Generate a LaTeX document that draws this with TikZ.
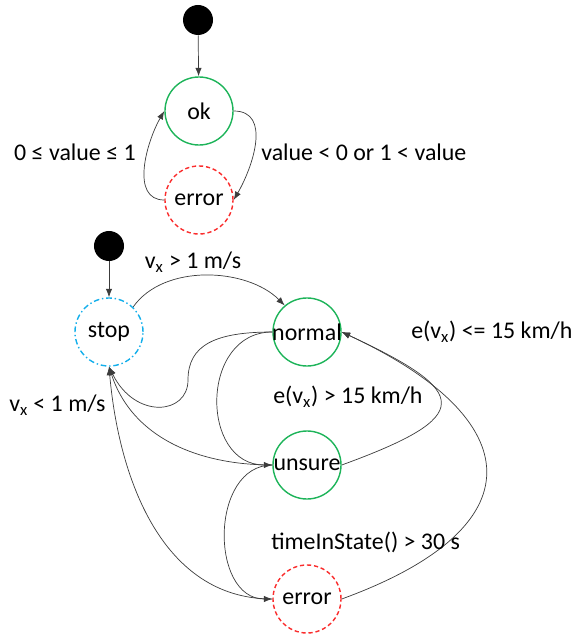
\documentclass[tikz,border=0pt]{standalone}
\usepackage{fontspec}
\setmainfont{Carlito}
\usepackage{xcolor}
\definecolor{StateGreen}{RGB}{30,180,90}
\definecolor{ErrorRed}{RGB}{250,45,45}
\definecolor{StopBlue}{RGB}{20,175,235}
\definecolor{LineGray}{RGB}{60,60,60}
\usepackage{tikz}
\usetikzlibrary{arrows.meta, shapes.geometric}
\newcommand{\diagfont}{\fontsize{17}{20}\selectfont}
\tikzset{
  % Initial pseudo state
  initdot/.style={circle, fill=black, minimum size=0.75cm, inner sep=0pt},
  % State circles
  statecirc/.style={
    circle, draw=StateGreen, line width=1pt,
    minimum size=1.7cm, inner sep=0pt,
    font=\diagfont
  },
  statecirc error/.style={statecirc, draw=ErrorRed, dash pattern=on 3pt off 2pt},
  statecirc stop/.style={statecirc, draw=StopBlue, dash pattern=on 4pt off 2pt on 1pt off 2pt},
  % Transitions
  trans/.style={-{Latex[length=6pt,width=4.5pt]}, draw=LineGray, line width=0.5pt},
  % Transition label
  tlabel/.style={font=\diagfont, inner sep=0pt},
}

\begin{document}
\begin{tikzpicture}[x=0.025cm, y=-0.025cm]
  \useasboundingbox (0,0) rectangle (571,636);

  % Sensor value
  \node[initdot] (init1) at (198,20) {};
  \node[statecirc] (ok) at (199,111) {\makebox[0pt]{ok}};
  \node[statecirc error] (err1) at (199,200) {\makebox[0pt]{error}};

  \draw[trans] (init1) -- (ok);
  \draw[trans] (ok.east) to[out=0, in=60, looseness=1.1] (err1.east);
  \draw[trans] (err1.west) to[out=180, in=240] (ok.west);
  \node[tlabel, anchor=east] (lblin) at (136,152) {0 ≤ value ≤ 1};
  \node[tlabel, anchor=west] (lblout) at (261,152) {value < 0 or 1 < value};

  % Velocity
  \node[initdot] (init2) at (109,246) {};
  \node[statecirc stop] (stop) at (109,332) {\makebox[0pt]{stop}};
  \node[statecirc] (normal) at (307,332) {\makebox[0pt]{normal}};
  \node[statecirc] (unsure) at (307,465) {\makebox[0pt]{unsure}};
  \node[statecirc error] (err2) at (307,599) {\makebox[0pt]{error}};

  \draw[trans] (init2) -- (stop);
  \draw[trans] (stop.46) to[out=55, in=135, looseness=0.9] (normal.130);
  \draw[trans] (normal.west) .. controls +(-57,0) and +(0,-35) .. (188,380)
                             .. controls +(0,35) and +(26,53) .. (stop.south);
  \draw[trans] (unsure.west) to[out=180, in=-72] (stop.south);
  \draw[trans] (err2.west) to[out=180, in=-85] (stop.south);
  \draw[trans] (normal.west) to[out=180, in=180, looseness=1.4] (unsure.west);
  \draw[trans] (unsure.west) to[out=180, in=180, looseness=1.2] (err2.west);
  \draw[trans] (unsure.east) to[out=20, in=-25, looseness=2.75] (normal.east);
  \draw[trans] (err2.east) to[out=20, in=-25, looseness=2] (normal.east);

  \node[tlabel] (lblgo) at (193,262) {v\textsubscript{x} > 1 m/s};
  \node[tlabel, anchor=west] (lblstop) at (9,405) {v\textsubscript{x} < 1 m/s};
  \node[tlabel, anchor=west] (lblok) at (411,332) {e(v\textsubscript{x}) <= 15 km/h};
  \node[tlabel, anchor=west] (lblbad) at (273,397) {e(v\textsubscript{x}) > 15 km/h};
  \node[tlabel, anchor=west] (lbltime) at (271,542) {timeInState() > 30 s};
\end{tikzpicture}
\end{document}
